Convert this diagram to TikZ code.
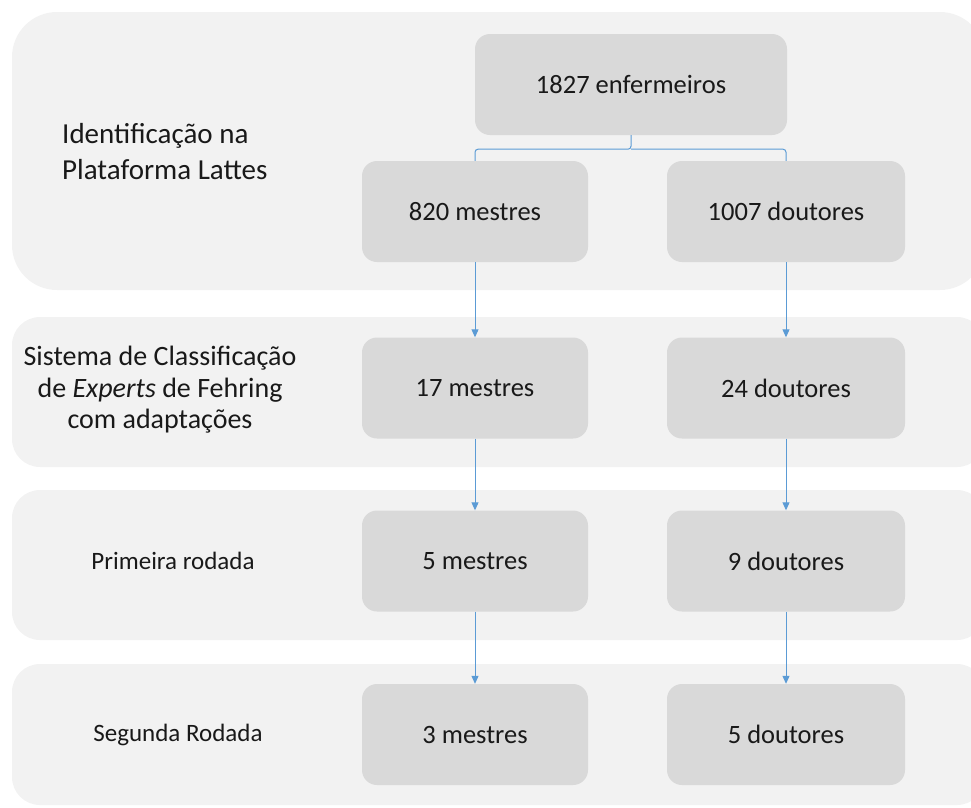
\documentclass[tikz,border=0pt]{standalone}
\usepackage{fontspec}
\setmainfont{Carlito}
\usetikzlibrary{arrows.meta}
\definecolor{faixa}{RGB}{242,242,242}
\definecolor{caixa}{RGB}{217,217,217}
\definecolor{azul}{RGB}{91,155,213}

\begin{document}
\begin{tikzpicture}[x=1pt,y=-1pt,>={Triangle[length=8pt,width=7pt]},
  every node/.style={font=\fontsize{26.5}{32}\selectfont,text=black!90},
  caixa/.style={fill=caixa,rounded corners=15pt,minimum height=101pt,inner sep=0pt},
  rotulo/.style={inner sep=0pt},
  liga/.style={azul,line width=1pt}]
  \useasboundingbox (0,0) rectangle (971,807);
  % faixas de fundo
  \fill[faixa,rounded corners=45pt] (12,12) rectangle (985,290);
  \foreach \a/\b in {317/467,490/640,664/805}
    \fill[faixa,rounded corners=28pt] (12,\a) rectangle (985,\b);
  % rotulos das etapas
  \node[rotulo,align=left,anchor=west,font=\fontsize{29}{36}\selectfont] (et1) at (62,152) {Identificação na\\Plataforma Lattes};
  \node[rotulo,align=center,font=\fontsize{28}{31.5}\selectfont] (et2) at (160,390) {Sistema de Classificação\\de \emph{Experts} de Fehring\\com adaptações};
  \node[rotulo,font=\fontsize{25}{30}\selectfont] (et3) at (173,561) {Primeira rodada};
  \node[rotulo,font=\fontsize{25}{30}\selectfont] (et4) at (178,735) {Segunda Rodada};
  % caixas
  \node[caixa,minimum width=312pt] (enf) at (631,84.5) {1827 enfermeiros};
  \node[caixa,minimum width=226pt] (m1) at (475,211.5) {820 mestres};
  \node[caixa,minimum width=238pt] (d1) at (786,211.5) {1007 doutores};
  \node[caixa,minimum width=226pt] (m2) at (475,388) {17 mestres};
  \node[caixa,minimum width=238pt] (d2) at (786,388) {24 doutores};
  \node[caixa,minimum width=226pt] (m3) at (475,561) {5 mestres};
  \node[caixa,minimum width=238pt] (d3) at (786,561) {9 doutores};
  \node[caixa,minimum width=226pt] (m4) at (475,734.5) {3 mestres};
  \node[caixa,minimum width=238pt] (d4) at (786,734.5) {5 doutores};
  % chave
  \draw[liga,rounded corners=3pt] (enf.south) -- ++(0,14) -| (m1.north);
  \draw[liga,rounded corners=3pt] (enf.south) ++(0,14) -| (d1.north);
  % setas
  \foreach \p/\q in {m1/m2,m2/m3,m3/m4,d1/d2,d2/d3,d3/d4}
    \draw[liga,->] (\p.south) -- (\q.north);
\end{tikzpicture}
\end{document}
